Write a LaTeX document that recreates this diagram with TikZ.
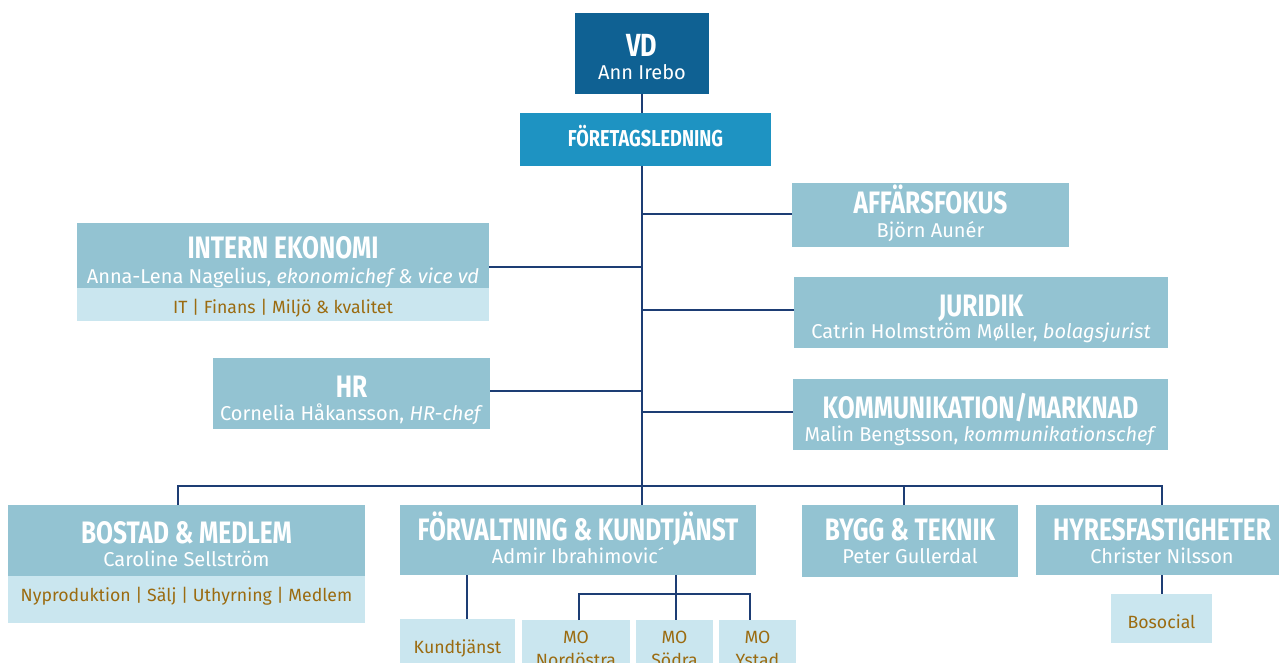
\documentclass[tikz,border=0pt]{standalone}
\usepackage{fontspec}
\setmainfont{Fira Sans}
\newfontfamily\headfont{Fira Sans Bold}[FakeStretch=0.79]
\newfontfamily\bodyfont{Fira Sans}
\definecolor{vdblue}{HTML}{0F6193}
\definecolor{ledblue}{HTML}{1E93C2}
\definecolor{hdblue}{HTML}{93C3D2}
\definecolor{subblue}{HTML}{CAE6EF}
\definecolor{gold}{HTML}{9B6B10}
\definecolor{navy}{HTML}{1D3D74}
\begin{document}
\begin{tikzpicture}[x=1pt,y=-1pt,
  box/.style={anchor=north west, inner sep=0pt, outer sep=0pt, draw=none},
  hbox/.style={box, fill=hdblue},
  sbox/.style={box, fill=subblue},
  headtxt/.style={anchor=base, inner sep=0pt, text=white, font=\headfont\fontsize{31}{31}\selectfont},
  nametxt/.style={anchor=base, inner sep=0pt, text=white, font=\bodyfont\fontsize{20}{20}\selectfont},
  subtxt/.style={anchor=base, inner sep=0pt, text=gold, font=\bodyfont\fontsize{17.7}{18}\selectfont},
  conn/.style={draw=navy, line width=2pt}]
\clip (0,0) rectangle (1279,663);
\fill[white] (0,0) rectangle (1279,663);

\coordinate (bus) at (642,486);
\coordinate (mobus) at (676,594);

% top
\node[box, fill=vdblue, minimum width=134pt, minimum height=81pt] (vd) at (575,13) {};
\node[headtxt, font=\headfont\fontsize{32}{32}\selectfont] (vdh) at (642,57) {VD};
\node[nametxt] (vdn) at (642,80) {Ann Irebo};

\node[box, fill=ledblue, minimum width=251pt, minimum height=53pt] (fl) at (520,113) {};
\node[headtxt, font=\headfont\fontsize{23}{23}\selectfont] (flh) at (645.5,147) {FÖRETAGSLEDNING};

% right staff
\node[hbox, minimum width=277pt, minimum height=64pt] (af) at (792,183) {};
\node[headtxt] (afh) at (930.5,213) {AFFÄRSFOKUS};
\node[nametxt] (afn) at (930.5,237) {Björn Aunér};

\node[hbox, minimum width=374pt, minimum height=71pt] (ju) at (794,277) {};
\node[headtxt] (juh) at (981,316) {JURIDIK};
\node[nametxt] (jun) at (981,338) {Catrin Holmström Møller, \textit{bolagsjurist}};

\node[hbox, minimum width=375pt, minimum height=71pt] (km) at (793,379) {};
\node[headtxt] (kmh) at (980.5,418) {KOMMUNIKATION/MARKNAD};
\node[nametxt] (kmn) at (980.5,441) {Malin Bengtsson, \textit{kommunikationschef}};

% left staff
\node[hbox, minimum width=412pt, minimum height=65pt] (ie) at (77,223) {};
\node[sbox, minimum width=412pt, minimum height=33pt] (ies) at (77,288) {};
\node[headtxt] (ieh) at (283,258) {INTERN EKONOMI};
\node[nametxt] (ien) at (283,283) {Anna-Lena Nagelius, \textit{ekonomichef \& vice vd}};
\node[subtxt] (iet) at (283,313) {IT | Finans | Miljö \& kvalitet};

\node[hbox, minimum width=277pt, minimum height=71pt] (hr) at (213,358) {};
\node[headtxt] (hrh) at (351.5,397) {HR};
\node[nametxt] (hrn) at (351.5,420) {Cornelia Håkansson, \textit{HR-chef}};

% bottom row
\node[hbox, minimum width=357pt, minimum height=71pt] (bm) at (8,505) {};
\node[sbox, minimum width=357pt, minimum height=47pt] (bms) at (8,576) {};
\node[headtxt] (bmh) at (186.5,543) {BOSTAD \& MEDLEM};
\node[nametxt] (bmn) at (186.5,566) {Caroline Sellström};
\node[subtxt] (bmt) at (186.5,601) {Nyproduktion | Sälj | Uthyrning | Medlem};

\node[hbox, minimum width=356pt, minimum height=70pt] (fk) at (400,505) {};
\node[headtxt] (fkh) at (578,540) {FÖRVALTNING \& KUNDTJÄNST};
\node[nametxt] (fkn) at (578,563) {Admir Ibrahimovic´};

\node[hbox, minimum width=216pt, minimum height=72pt] (bt) at (802,505) {};
\node[headtxt] (bth) at (910,540) {BYGG \& TEKNIK};
\node[nametxt] (btn) at (910,563) {Peter Gullerdal};

\node[hbox, minimum width=252pt, minimum height=70pt] (hf) at (1036,505) {};
\node[headtxt] (hfh) at (1162,540) {HYRESFASTIGHETER};
\node[nametxt] (hfn) at (1162,563) {Christer Nilsson};

% sub units
\node[sbox, minimum width=101pt, minimum height=49pt] (bs) at (1111,594) {};
\node[subtxt] (bst) at (1161.5,628) {Bosocial};

\node[sbox, minimum width=115pt, minimum height=60pt] (kt) at (400,619) {};
\node[subtxt] (ktt) at (457.5,653) {Kundtjänst};

\node[sbox, minimum width=108pt, minimum height=60pt] (mo1) at (522,620) {};
\node[subtxt] (mo1a) at (576,643) {MO};
\node[subtxt] (mo1b) at (576,666) {Nordöstra};
\node[sbox, minimum width=77pt, minimum height=60pt] (mo2) at (636,620) {};
\node[subtxt] (mo2a) at (674.5,643) {MO};
\node[subtxt] (mo2b) at (674.5,666) {Södra};
\node[sbox, minimum width=77pt, minimum height=60pt] (mo3) at (719,620) {};
\node[subtxt] (mo3a) at (757.5,643) {MO};
\node[subtxt] (mo3b) at (757.5,666) {Ystad};

% connectors
\draw[conn] (vd.south -| bus) -- (fl.north -| bus);
\draw[conn] (fl.south -| bus) -- (bus);
\draw[conn] ([yshift=1pt]af.west) -- ([yshift=1pt]af.west -| bus);
\draw[conn] ([yshift=3pt]ju.west) -- ([yshift=3pt]ju.west -| bus);
\draw[conn] ([yshift=3pt]km.west) -- ([yshift=3pt]km.west -| bus);
\draw[conn] ([yshift=21pt]ie.south east) -- ([yshift=21pt]ie.south east -| bus);
\draw[conn] ([yshift=3pt]hr.east) -- ([yshift=3pt]hr.east -| bus);
\draw[conn] ([xshift=-8.5pt]bm.north) |- (bus) -| (hf.north);
\draw[conn] (bus) -- (fk.north -| bus);
\draw[conn] ([xshift=-6pt]bt.north) -- ([xshift=-6pt]bt.north |- bus);
\draw[conn] (hf.south) -- (bs.north -| hf.south);
\draw[conn] ([xshift=9.5pt]kt.north) -- ([xshift=9.5pt]kt.north |- fk.south);
\draw[conn] (fk.south -| mobus) -- (mo2.north -| mobus);
\draw[conn] ([xshift=3pt]mo1.north) |- (mobus) -| ([xshift=-7.5pt]mo3.north);
\end{tikzpicture}
\end{document}
